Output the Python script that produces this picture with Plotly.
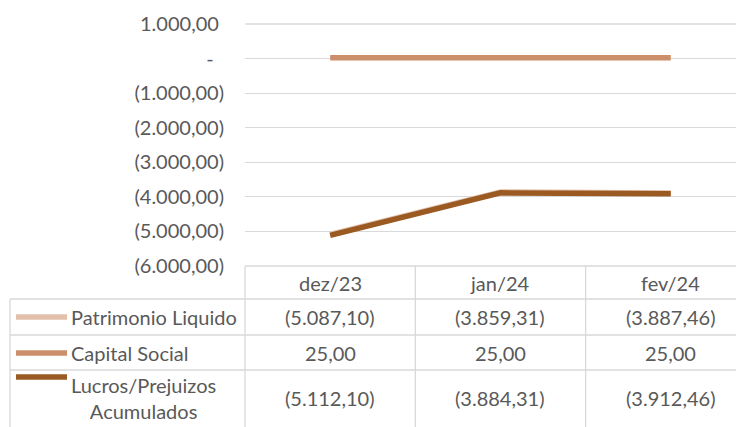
import plotly.graph_objects as go

categories = ["dez/23", "jan/24", "fev/24"]
series_names = ["Patrimonio Liquido", "Capital Social", "Lucros/Prejuizos<br>Acumulados"]
patrimonio = [-5087.10, -3859.31, -3887.46]
capital = [25.00, 25.00, 25.00]
lucros = [-5112.10, -3884.31, -3912.46]
y_ticks = [1000, 0, -1000, -2000, -3000, -4000, -5000, -6000]

colors = ["#E3C0AA", "#CC8F6B", "#9A5A22"]
series_values = [patrimonio, capital, lucros]
TEXT = "#595959"
GRID = "#D9D9D9"
FONT = "Lato"
FS = 20


def br(v):
    s = f"{abs(v):,.2f}"
    return s.replace(",", "X").replace(".", ",").replace("X", ".")


def fmt(v):
    if v == 0:
        return "-\u00a0\u00a0"
    if v < 0:
        return "(" + br(v) + ")"
    return br(v) + "\u00a0"


# page body has an 8px margin; geometry below is in page pixels
OFF = 8
W, H = 744 - OFF, 427 - OFF
L, T, B = 245 - OFF, 24 - OFF, 427 - 266
plot_w = W - L
plot_h = H - T - B
x_range = [-0.5, 2.43]


def pxx(px):
    return (px - OFF - L) / plot_w


def pxy(py):
    return (266 - py) / plot_h


def catx(c):
    return (c - x_range[0]) / (x_range[1] - x_range[0])


fig = go.Figure()
for name, vals, col in zip(series_names, series_values, colors):
    fig.add_trace(go.Scatter(
        x=categories, y=vals, mode="lines", name=name.replace("<br>", " "),
        line=dict(color=col, width=5.5), showlegend=False, hoverinfo="skip",
    ))

shapes = []
line_style = dict(color=GRID, width=1.3)
# top/bottom edge lines of the plot (bottom one is the table's top border)
for yy in [0, 1]:
    shapes.append(dict(type="line", xref="paper", yref="paper", layer="below",
                       x0=0, x1=1.05, y0=yy, y1=yy, line=line_style))
# horizontal table lines
for py in [299, 335, 370]:
    shapes.append(dict(type="line", xref="paper", yref="paper",
                       x0=pxx(10), x1=1.05, y0=pxy(py), y1=pxy(py), line=line_style))
# vertical lines at category boundaries
for b in [-0.5, 0.5, 1.5, 2.5]:
    shapes.append(dict(type="line", xref="paper", yref="paper",
                       x0=catx(b), x1=catx(b), y0=0, y1=pxy(440), line=line_style))
# left border of table
shapes.append(dict(type="line", xref="paper", yref="paper",
                   x0=pxx(10), x1=pxx(10), y0=pxy(299), y1=pxy(440), line=line_style))

row_centers = [317, 353, 398]
swatch_y = [317, 353, 377]
annotations = []
for i, cat in enumerate(categories):
    annotations.append(dict(x=cat, xref="x", y=pxy(283), yref="paper", text=cat,
                            showarrow=False, xanchor="center", yanchor="middle",
                            font=dict(family=FONT, size=FS, color=TEXT)))
for r, (name, vals, col) in enumerate(zip(series_names, series_values, colors)):
    shapes.append(dict(type="line", xref="paper", yref="paper",
                       x0=pxx(16), x1=pxx(67), y0=pxy(swatch_y[r]), y1=pxy(swatch_y[r]),
                       line=dict(color=col, width=5.5)))
    annotations.append(dict(x=pxx(69), xref="paper", y=pxy(row_centers[r]), yref="paper",
                            text=name, showarrow=False, xanchor="left", yanchor="middle",
                            align="center",
                            font=dict(family=FONT, size=FS, color=TEXT)))
    for cat, v in zip(categories, vals):
        annotations.append(dict(x=cat, xref="x", y=pxy(row_centers[r]), yref="paper",
                                text=fmt(v).replace("\u00a0", ""), showarrow=False,
                                xanchor="center", yanchor="middle",
                                font=dict(family=FONT, size=FS, color=TEXT)))

fig.update_layout(
    width=W, height=H, autosize=False,
    margin=dict(l=L, r=0, t=T, b=B, pad=0),
    paper_bgcolor="white", plot_bgcolor="white",
    font=dict(family=FONT, size=FS, color=TEXT),
    shapes=shapes, annotations=annotations,
    xaxis=dict(range=x_range, showgrid=False, showticklabels=False, zeroline=False,
               showline=False, ticks=""),
    yaxis=dict(range=[-6000, 1000], tickvals=y_ticks, ticktext=[fmt(v) for v in y_ticks],
               showgrid=True, gridcolor=GRID, gridwidth=1.3, zeroline=False,
               showline=False, ticks="", ticklabelstandoff=20,
               tickfont=dict(family=FONT, size=FS, color=TEXT)),
)

fig.write_html("out.html")
